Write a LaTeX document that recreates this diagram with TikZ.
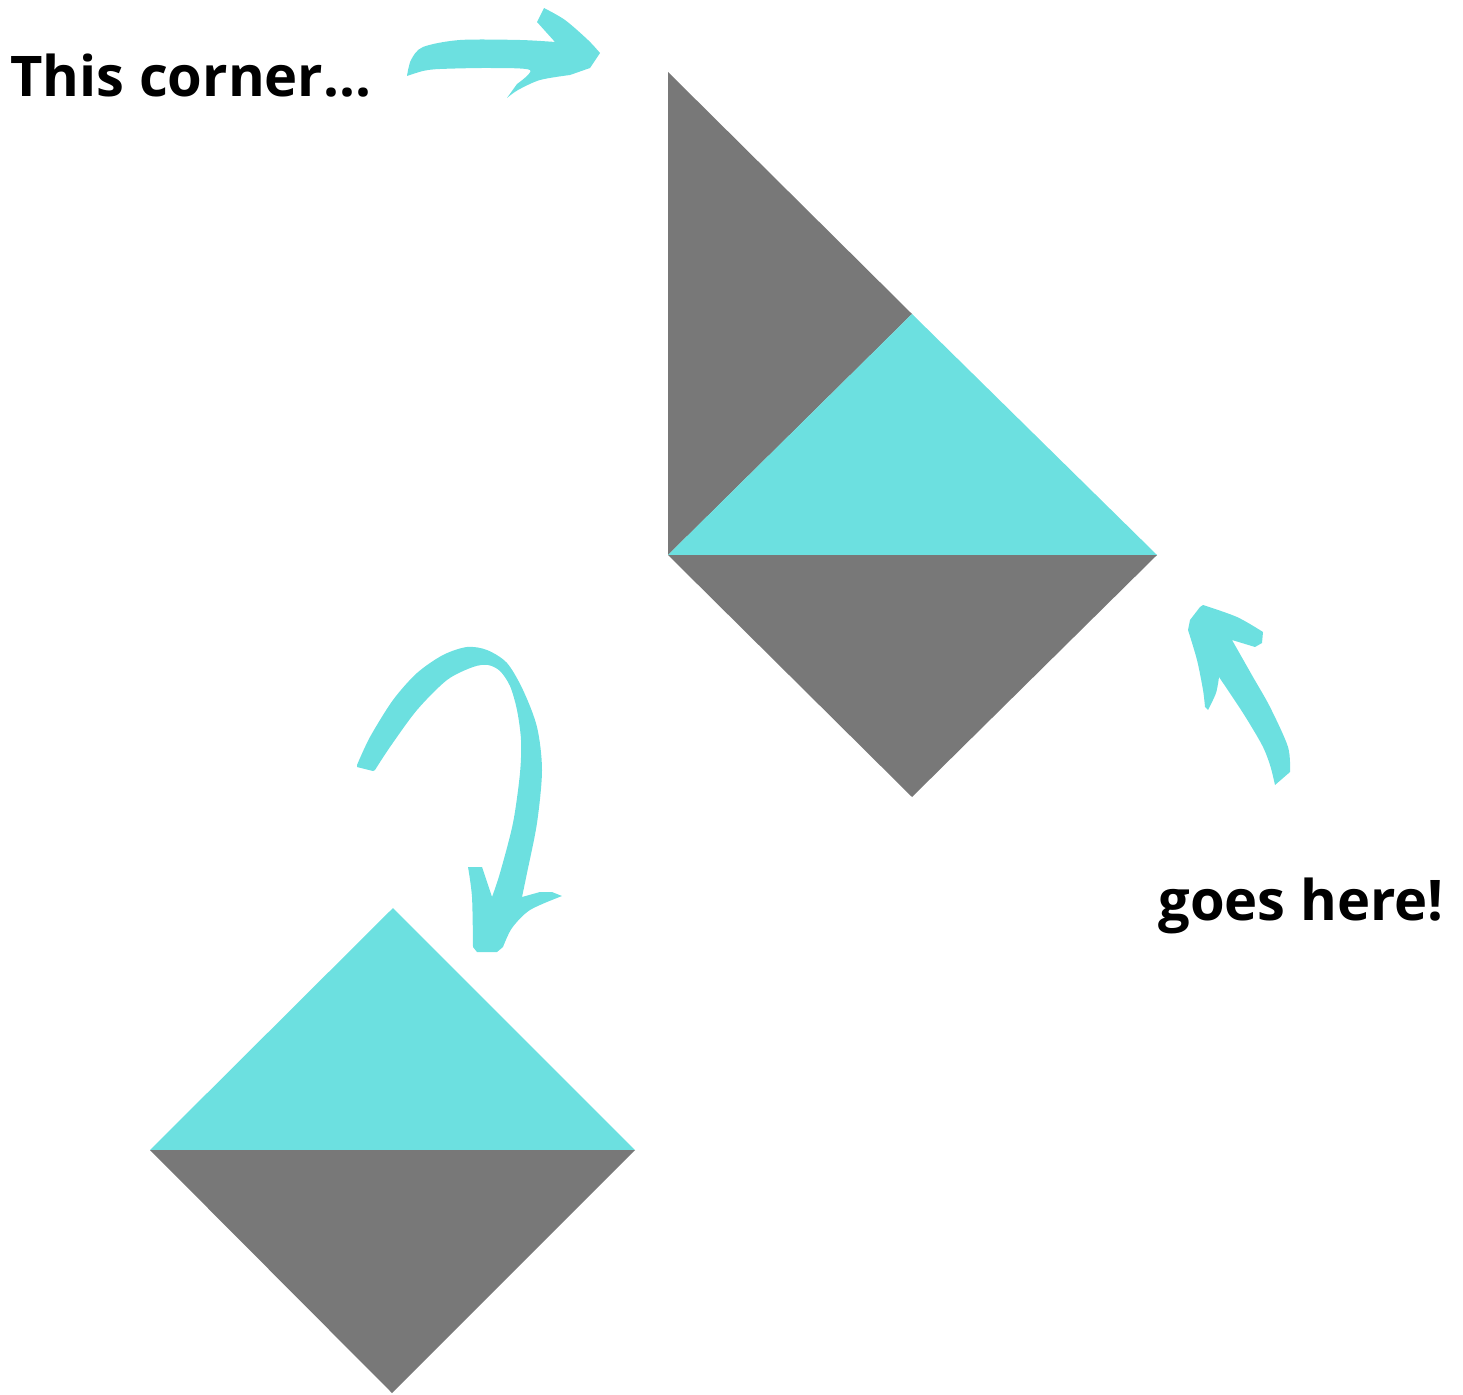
\documentclass[tikz,border=0pt]{standalone}
\usepackage{fontspec}
\setmainfont{Open Sans}
\definecolor{quiltteal}{RGB}{108,224,224}
\definecolor{quiltgrey}{RGB}{120,120,120}

\begin{document}
\begin{tikzpicture}[x=0.02cm,y=-0.02cm,
  teal part/.style={fill=quiltteal},
  grey part/.style={fill=quiltgrey},
  brush/.style={fill=quiltteal},
  label text/.style={font=\fontsize{31.9}{38}\selectfont\bfseries,inner sep=0pt}]
  \useasboundingbox (0,0) rectangle (1463,1395);
  % top block
  \coordinate (tl) at (668,72);
  \coordinate (tm) at (912,314);
  \coordinate (ml) at (668,555);
  \coordinate (mr) at (1157,555);
  \coordinate (tb) at (912,797);
  \fill[grey part] (tl) -- (tm) -- (ml) -- cycle;
  \fill[teal part] (ml) -- (tm) -- (mr) -- cycle;
  \fill[grey part] (ml) -- (mr) -- (tb) -- cycle;
  % bottom block
  \coordinate (bl) at (150,1150);
  \coordinate (bt) at (393,908);
  \coordinate (br) at (635,1150);
  \coordinate (bb) at (392,1393);
  \fill[teal part] (bl) -- (bt) -- (br) -- cycle;
  \fill[grey part] (bl) -- (br) -- (bb) -- cycle;
  % labels
  \node[label text,anchor=base west] (corner) at (10,97) {This corner...};
  \node[label text,anchor=base west] (here) at (1158,920) {goes here!};
  % brush arrows
  \fill[brush] plot[smooth] coordinates {(407,76) (411,60) (423,47) (460,40) (520,40) (555,42)}
    -- (537,22) -- (544,8)
    -- plot[smooth] coordinates {(544,8) (565,20) (588,40) (600,53)}
    -- (590,68) -- (570,75)
    -- plot[smooth] coordinates {(570,75) (540,80) (518,90) (507,98)}
    -- (517,84)
    -- plot[smooth] coordinates {(517,84) (530,70) (490,68) (440,69) (423,71) (407,76)} -- cycle;
  \fill[brush] plot[smooth] coordinates {(357,765) (370,737) (393,700) (417,673) (443,655) (467,647) (487,650) (507,663) (523,690) (537,727) (542,770) (537,823) (527,873) (522,897)}
    -- (540,892) -- (552,892) -- (562,896)
    -- plot[smooth] coordinates {(562,896) (530,910) (512,928) (503,947)}
    -- (497,952) -- (477,952) -- (473,947)
    -- plot[smooth] coordinates {(473,947) (472,897) (468,867)}
    -- (482,867) -- (492,897)
    -- plot[smooth] coordinates {(492,897) (500,873) (513,823) (520,773) (521,740) (517,710) (510,686) (500,671) (488,665) (473,667) (447,680) (417,710) (390,747) (375,770)}
    -- (373,771) -- (357,767) -- cycle;
  \fill[brush] plot[smooth] coordinates {(1188,630) (1197,660) (1203,690) (1205,707)}
    -- (1208,710)
    -- plot[smooth] coordinates {(1208,710) (1216,693) (1219,677)}
    -- plot[smooth] coordinates {(1219,677) (1243,713) (1262,745) (1270,765) (1275,785)}
    -- (1290,772)
    -- plot[smooth] coordinates {(1290,772) (1288,747) (1270,707) (1253,677) (1232,640)}
    -- (1255,647) -- (1262,643) -- (1263,632)
    -- plot[smooth] coordinates {(1263,632) (1237,617) (1203,605)}
    -- (1200,607) -- (1190,620) -- cycle;
\end{tikzpicture}
\end{document}
